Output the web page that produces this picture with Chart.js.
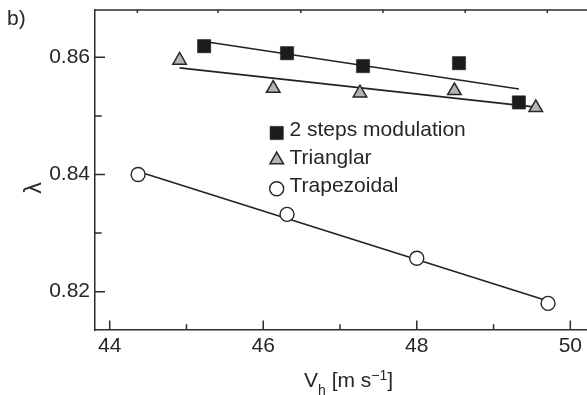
<!DOCTYPE html>
<html>
<head>
<meta charset="utf-8">
<script src="https://cdn.jsdelivr.net/npm/chart.js@4/dist/chart.umd.min.js"></script>
<style>
  html, body { margin: 0; padding: 0; background: #fff; }
  #wrap { position: relative; width: 587px; height: 395px; }
</style>
</head>
<body>
<div id="wrap"><canvas id="c" width="587" height="395"></canvas></div>
<script>
// Efficiency (lambda) against speed V_h for three modulation waveforms
const seriesNames = ['2 steps modulation', 'Trianglar', 'Trapezoidal'];

const stepsX = [45.23, 46.31, 47.30, 48.55, 49.33];
const stepsY = [0.8619, 0.8607, 0.8585, 0.8590, 0.8523];

const triX = [44.91, 46.13, 47.26, 48.49, 49.55];
const triY = [0.8595, 0.8547, 0.8539, 0.8543, 0.8514];

const trapX = [44.37, 46.31, 48.00, 49.71];
const trapY = [0.8400, 0.8332, 0.8257, 0.8180];

// straight-line fits, start and end points
const stepsFitX = [45.23, 49.33];
const stepsFitY = [0.8627, 0.8546];
const triFitX = [44.91, 49.55];
const triFitY = [0.8582, 0.8515];
const trapFitX = [44.37, 49.71];
const trapFitY = [0.8405, 0.8184];

// axes
const xTickLabels = [44, 46, 48, 50];
const xMinorTicks = [45, 47, 49];
const yTickLabels = [0.82, 0.84, 0.86];
const yMinorTicks = [0.83, 0.85];
const topTicks = [44.36, 45.41, 46.49, 47.56, 48.63, 49.70];
const xRange = [43.8085, 50.2173];
const yRange = [0.813464, 0.868072];

const FONT = '"Liberation Sans", Arial, Helvetica, sans-serif';
const INK = '#262626';

const pts = (xs, ys) => xs.map((x, i) => ({ x: x, y: ys[i] }));

// inward tick marks and the top frame line
const frameTicks = {
  id: 'frameTicks',
  beforeDatasetsDraw(chart) {
    const { ctx, chartArea: a, scales: { x, y } } = chart;
    ctx.save();
    ctx.strokeStyle = '#2b2b2b';
    ctx.lineWidth = 1.5;
    ctx.beginPath();
    ctx.moveTo(a.left, a.top);
    ctx.lineTo(a.right, a.top);
    const vx = (v, len) => { const p = x.getPixelForValue(v); ctx.moveTo(p, a.bottom); ctx.lineTo(p, a.bottom - len); };
    const vy = (v, len) => { const p = y.getPixelForValue(v); ctx.moveTo(a.left, p); ctx.lineTo(a.left + len, p); };
    xTickLabels.forEach(v => vx(v, 9.5));
    xMinorTicks.forEach(v => vx(v, 5.7));
    yTickLabels.forEach(v => vy(v, 10));
    yMinorTicks.forEach(v => vy(v, 6.7));
    topTicks.forEach(v => { const p = x.getPixelForValue(v); ctx.moveTo(p, a.top); ctx.lineTo(p, a.top + 3); });
    ctx.stroke();
    ctx.restore();
  }
};

// legend inside the plot, using each dataset's own marker
const markerLegend = {
  id: 'markerLegend',
  afterDatasetsDraw(chart, args, opts) {
    const { ctx } = chart;
    ctx.save();
    opts.items.forEach((idx, i) => {
      const ds = chart.data.datasets[idx];
      const base = opts.baseline + i * opts.rowHeight;
      const cy = base + (ds.pointStyle === 'triangle' ? -4 : -3);
      ctx.fillStyle = ds.backgroundColor;
      ctx.strokeStyle = ds.borderColor;
      ctx.lineWidth = ds.borderWidth;
      Chart.helpers.drawPoint(ctx, { pointStyle: ds.pointStyle, radius: ds.pointRadius, borderWidth: ds.borderWidth }, opts.markerX, cy);
      ctx.fillStyle = INK;
      ctx.font = '21px ' + FONT;
      ctx.textAlign = 'left';
      ctx.textBaseline = 'alphabetic';
      ctx.fillText(ds.label, opts.textX, base);
    });
    ctx.restore();
  }
};

// panel letter and axis titles (with sub/superscripts)
const axisTitles = {
  id: 'axisTitles',
  afterDraw(chart) {
    const { ctx } = chart;
    ctx.save();
    ctx.fillStyle = INK;
    ctx.textBaseline = 'alphabetic';
    ctx.textAlign = 'left';
    ctx.font = '21px ' + FONT;
    ctx.fillText('b)', 7, 25);

    const runs = [
      { t: 'V', s: 21, dy: 0 },
      { t: 'h', s: 14, dy: 8.5 },
      { t: ' [m s', s: 21, dy: 0 },
      { t: '\u22121', s: 14, dy: -7 },
      { t: ']', s: 21, dy: 0 }
    ];
    let x = 304;
    runs.forEach(r => {
      ctx.font = r.s + 'px ' + FONT;
      ctx.fillText(r.t, x, 386.7 + r.dy);
      x += ctx.measureText(r.t).width;
    });

    ctx.translate(41, 188);
    ctx.rotate(-Math.PI / 2);
    ctx.textAlign = 'center';
    ctx.font = '23px ' + FONT;
    ctx.fillText('\u03BB', 0, 0);
    ctx.restore();
  }
};

const fitStyle = { type: 'line', showLine: true, pointRadius: 0, borderColor: '#222', borderWidth: 1.6, fill: false, order: 2 };

new Chart(document.getElementById('c'), {
  type: 'scatter',
  data: {
    datasets: [
      { label: seriesNames[0], data: pts(stepsX, stepsY), pointStyle: 'rect', pointRadius: 9.4,
        backgroundColor: '#1c1c1c', borderColor: '#1c1c1c', borderWidth: 0.5, order: 1 },
      { label: seriesNames[1], data: pts(triX, triY), pointStyle: 'triangle', pointRadius: 7.8,
        backgroundColor: '#b4b4b4', borderColor: INK, borderWidth: 1.5, order: 1 },
      { label: seriesNames[2], data: pts(trapX, trapY), pointStyle: 'circle', pointRadius: 7,
        backgroundColor: '#ffffff', borderColor: INK, borderWidth: 1.4, order: 1 },
      Object.assign({ label: '', data: pts(stepsFitX, stepsFitY) }, fitStyle),
      Object.assign({ label: '', data: pts(triFitX, triFitY) }, fitStyle),
      Object.assign({ label: '', data: pts(trapFitX, trapFitY) }, fitStyle)
    ]
  },
  options: {
    responsive: false,
    animation: false,
    devicePixelRatio: 1,
    events: [],
    layout: { autoPadding: false, padding: { top: 10, right: 0, bottom: 0, left: 0 } },
    plugins: {
      legend: { display: false },
      tooltip: { enabled: false },
      markerLegend: { items: [0, 1, 2], markerX: 276.7, textX: 289.5, baseline: 136, rowHeight: 27.9 }
    },
    scales: {
      x: {
        type: 'linear', position: 'bottom', min: xRange[0], max: xRange[1],
        grid: { display: false, drawTicks: false },
        border: { display: true, color: '#2b2b2b', width: 1.5 },
        afterBuildTicks: s => { s.ticks = xTickLabels.map(v => ({ value: v })); },
        afterFit: s => { s.height = 65; s.paddingLeft = 0; s.paddingRight = 0; s.paddingTop = 0; s.paddingBottom = 0; },
        ticks: { padding: 4, color: INK, font: { family: FONT, size: 21 }, callback: v => String(v), maxRotation: 0, autoSkip: false }
      },
      y: {
        type: 'linear', position: 'left', min: yRange[0], max: yRange[1],
        grid: { display: false, drawTicks: false },
        border: { display: true, color: '#2b2b2b', width: 1.5 },
        afterBuildTicks: s => { s.ticks = yTickLabels.map(v => ({ value: v })); },
        afterFit: s => { s.width = 95; s.paddingLeft = 0; s.paddingRight = 0; s.paddingTop = 0; s.paddingBottom = 0; },
        ticks: { padding: 5, color: INK, font: { family: FONT, size: 21 }, callback: v => v.toFixed(2), autoSkip: false }
      }
    }
  },
  plugins: [frameTicks, markerLegend, axisTitles]
});
</script>
</body>
</html>
